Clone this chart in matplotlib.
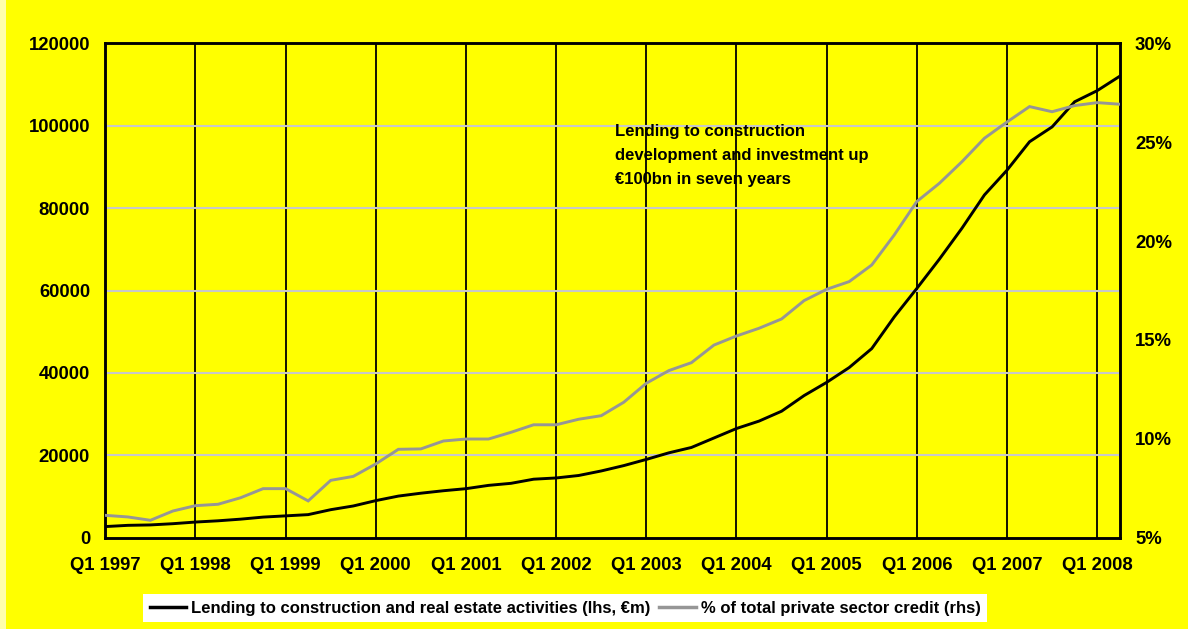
import matplotlib
matplotlib.use("Agg")
import matplotlib.pyplot as plt
from matplotlib.patches import Rectangle

plt.rcParams['font.family'] = ['Liberation Sans', 'DejaVu Sans']
plt.rcParams['font.weight'] = 'bold'

# Quarterly series, Q1 1997 .. Q2 2008
quarters = [f"Q{q} {y}" for y in range(1997, 2009) for q in range(1, 5)][:46]

lending = [2700, 3000, 3100, 3400, 3800, 4100, 4500, 5000, 5300, 5600,
           6800, 7700, 9000, 10100, 10800, 11400, 11900, 12700, 13200, 14200,
           14500, 15100, 16200, 17500, 19000, 20600, 21900, 24200, 26500, 28300,
           30700, 34500, 37700, 41300, 45900, 53600, 60500, 67600, 75100, 83200,
           89200, 96100, 99700, 105800, 108500, 112000]

share = [6.13, 6.05, 5.88, 6.35, 6.62, 6.69, 7.02, 7.48, 7.48, 6.86,
         7.90, 8.10, 8.73, 9.47, 9.49, 9.89, 9.99, 9.99, 10.33, 10.71,
         10.71, 10.99, 11.17, 11.85, 12.81, 13.45, 13.85, 14.74, 15.20, 15.59,
         16.06, 16.99, 17.56, 17.95, 18.79, 20.31, 22.00, 22.92, 24.01, 25.20,
         26.02, 26.80, 26.54, 26.85, 27.00, 26.92]

left_ticks = [0, 20000, 40000, 60000, 80000, 100000, 120000]
right_ticks = [5, 10, 15, 20, 25, 30]
right_labels = [f"{t}%" for t in right_ticks]

label_lending = "Lending to construction and real estate activities (lhs, \u20acm)"
label_share = "% of total private sector credit (rhs)"
note = "Lending to construction\ndevelopment and investment up\n\u20ac100bn in seven years"

YELLOW = "#FFFF00"
GREY = "#969696"

W, H = 1188, 629
fig = plt.figure(figsize=(W / 100, H / 100), dpi=100, facecolor=YELLOW)

# pale strip down the left edge
fig.patches.append(Rectangle((0, 0), 6 / W, 1, transform=fig.transFigure,
                             facecolor="#FFFFAA", edgecolor="none", zorder=0))

ax = fig.add_axes([105.3 / W, 1 - 537.7 / H, (1119.7 - 105.3) / W, (537.7 - 43.3) / H])
ax.set_facecolor(YELLOW)
ax2 = ax.twinx()

x = list(range(len(quarters)))
l1, = ax.plot(x, lending, color="black", lw=2.1, solid_joinstyle="miter", zorder=3)
l2, = ax2.plot(x, share, color=GREY, lw=2.1, solid_joinstyle="miter", zorder=3)

ax.set_xlim(0, len(quarters) - 1)
ax.set_ylim(0, 120000)
ax2.set_ylim(5, 30)

# year boundaries as black verticals, value gridlines in light grey
q1_idx = [i for i, q in enumerate(quarters) if q.startswith("Q1")]
ax.set_xticks(q1_idx)
ax.set_xticklabels([quarters[i] for i in q1_idx])
for i in q1_idx[1:]:
    ax.axvline(i, color="black", lw=1.3, zorder=1)
for t in left_ticks[1:-1]:
    ax.axhline(t, color="#C8C8C8", lw=1.5, zorder=1)

ax.set_yticks(left_ticks)
ax.set_yticklabels([str(t) for t in left_ticks])
ax2.set_yticks(right_ticks)
ax2.set_yticklabels(right_labels)

for a in (ax, ax2):
    for s in a.spines.values():
        s.set_linewidth(1.8)
        s.set_color("black")
ax.tick_params(axis="both", length=0, labelsize=13.3)
ax.tick_params(axis="y", pad=11)
ax.tick_params(axis="x", pad=14)
ax2.tick_params(axis="y", length=0, labelsize=13.3, pad=11)
for lab in ax.get_xticklabels() + ax.get_yticklabels() + ax2.get_yticklabels():
    lab.set_fontweight("bold")

fig.text(615 / W, 1 - 124 / H, note, fontsize=12, fontweight="bold",
         va="top", ha="left", linespacing=1.75)

leg = fig.legend([l1, l2], [label_lending, label_share], loc="center",
                 bbox_to_anchor=(565 / W, 1 - 608 / H), ncol=2, frameon=True,
                 facecolor="white", edgecolor="none", fancybox=False,
                 framealpha=1, prop={"size": 12, "weight": "bold"},
                 handlelength=2.2, handletextpad=0.3, columnspacing=0.5,
                 borderpad=0.4)
for h in leg.legend_handles:
    h.set_linewidth(2.5)

fig.savefig("out.png", dpi=100, facecolor=YELLOW)
